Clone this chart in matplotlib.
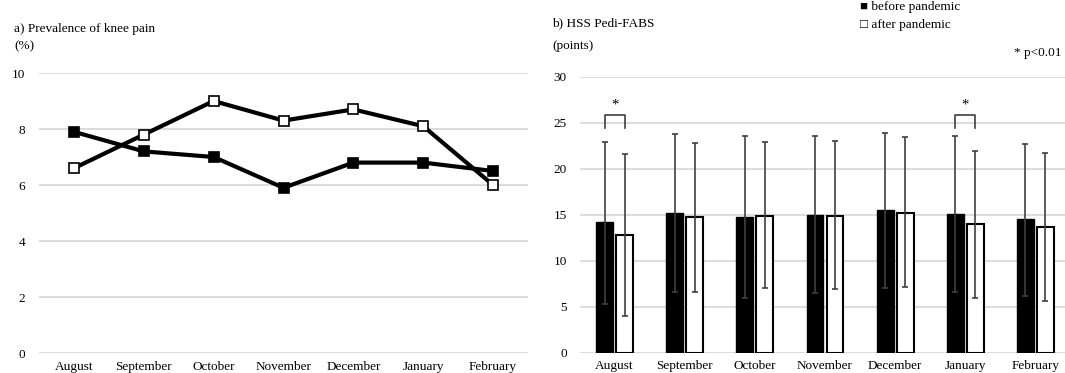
import numpy as np
import matplotlib
matplotlib.use('Agg')
import matplotlib.pyplot as plt

# ─── data ─────────────────────────────────────────────────────────────────────
MONTHS = ['August', 'September', 'October', 'November', 'December', 'January', 'February']

# a) prevalence of knee pain (%)
PAIN_BEFORE = [7.9, 7.2, 7.0, 5.9, 6.8, 6.8, 6.5]
PAIN_AFTER  = [6.6, 7.8, 9.0, 8.3, 8.7, 8.1, 6.0]

# b) HSS Pedi-FABS (points): mean and whisker ends
FABS_BEFORE    = [14.2, 15.2, 14.8, 15.0, 15.5, 15.1, 14.5]
FABS_AFTER     = [12.8, 14.7, 14.9, 14.9, 15.2, 14.0, 13.7]
FABS_BEFORE_HI = [22.9, 23.8, 23.5, 23.5, 23.9, 23.6, 22.7]
FABS_BEFORE_LO = [5.3, 6.6, 5.9, 6.5, 7.0, 6.6, 6.2]
FABS_AFTER_HI  = [21.6, 22.8, 22.9, 23.0, 23.4, 21.9, 21.7]
FABS_AFTER_LO  = [4.0, 6.6, 7.0, 6.9, 7.1, 6.0, 5.6]

SIG_MONTHS = ['August', 'January']

# ─── style ────────────────────────────────────────────────────────────────────
SERIF = ['Liberation Serif', 'DejaVu Serif']
plt.rcParams['font.family'] = SERIF
plt.rcParams['font.size'] = 9.5
GRID = '#d9d9d9'
ERR = '#404040'

fig = plt.figure(figsize=(10.65, 3.73), dpi=100)
ax1 = fig.add_axes([39 / 1065, 20 / 373, 489 / 1065, 280 / 373])
ax2 = fig.add_axes([579.5 / 1065, 20.3 / 373, 491 / 1065, 276 / 373])

x = np.arange(len(MONTHS))


def style_axis(ax, ymax, step, ypad):
    ax.set_xlim(-0.5, len(MONTHS) - 0.5)
    ax.set_ylim(0, ymax)
    ax.set_yticks(np.arange(0, ymax + step / 2, step))
    ax.set_xticks(x)
    ax.set_xticklabels(MONTHS)
    for s in ax.spines.values():
        s.set_visible(False)
    ax.tick_params(axis='both', length=0, labelsize=9.5)
    ax.tick_params(axis='y', pad=ypad)
    ax.tick_params(axis='x', pad=5.5)
    ax.grid(axis='y', color=GRID, lw=1.3, zorder=0)
    ax.set_axisbelow(True)


# ─── a) line chart ────────────────────────────────────────────────────────────
style_axis(ax1, 10, 2, 10)
ax1.plot(x, PAIN_BEFORE, color='black', lw=3, marker='s', ms=6.5,
         mfc='black', mec='black', mew=1.2, zorder=3, clip_on=False)
ax1.plot(x, PAIN_AFTER, color='black', lw=3, marker='s', ms=6.5,
         mfc='white', mec='black', mew=1.2, zorder=4, clip_on=False)

fig.text(14 / 1065, 1 - 29 / 373, 'a) Prevalence of knee pain',
         ha='left', va='center')
fig.text(14 / 1065, 1 - 46 / 373, '(%)', ha='left', va='center')

# ─── b) bar chart ─────────────────────────────────────────────────────────────
style_axis(ax2, 30, 5, 9)
w, off = 0.24, 0.142
b_hi = np.array(FABS_BEFORE_HI) - np.array(FABS_BEFORE)
b_lo = np.array(FABS_BEFORE) - np.array(FABS_BEFORE_LO)
a_hi = np.array(FABS_AFTER_HI) - np.array(FABS_AFTER)
a_lo = np.array(FABS_AFTER) - np.array(FABS_AFTER_LO)

ax2.bar(x - off, FABS_BEFORE, w, color='black', edgecolor='black', lw=1, zorder=2)
ax2.bar(x + off, FABS_AFTER, w, color='white', edgecolor='black', lw=1.5, zorder=2)
ax2.errorbar(x - off, FABS_BEFORE, yerr=[b_lo, b_hi], fmt='none', ecolor=ERR,
             elinewidth=1.2, capsize=2.2, capthick=1.2, zorder=3)
ax2.errorbar(x + off, FABS_AFTER, yerr=[a_lo, a_hi], fmt='none', ecolor=ERR,
             elinewidth=1.2, capsize=2.2, capthick=1.2, zorder=3)

for m in SIG_MONTHS:
    i = MONTHS.index(m)
    ax2.plot([i - off, i - off, i + off, i + off], [24.4, 25.8, 25.8, 24.4],
             color=ERR, lw=1.2, zorder=3)
    ax2.text(i, 26.9, '*', ha='center', va='center', fontsize=10.5)

fig.text(552 / 1065, 1 - 23 / 373, 'b) HSS Pedi-FABS', ha='left', va='center')
fig.text(552 / 1065, 1 - 46 / 373, '(points)', ha='left', va='center')
fig.text(1061 / 1065, 1 - 53 / 373, '* p<0.01', ha='right', va='center')

fig.text(860 / 1065, 1 - 7 / 373, '\u25a0 before pandemic',
         ha='left', va='center', family=SERIF)
fig.text(860 / 1065, 1 - 25 / 373, '\u25a1 after pandemic',
         ha='left', va='center', family=SERIF)

fig.savefig('out.png', dpi=100)
